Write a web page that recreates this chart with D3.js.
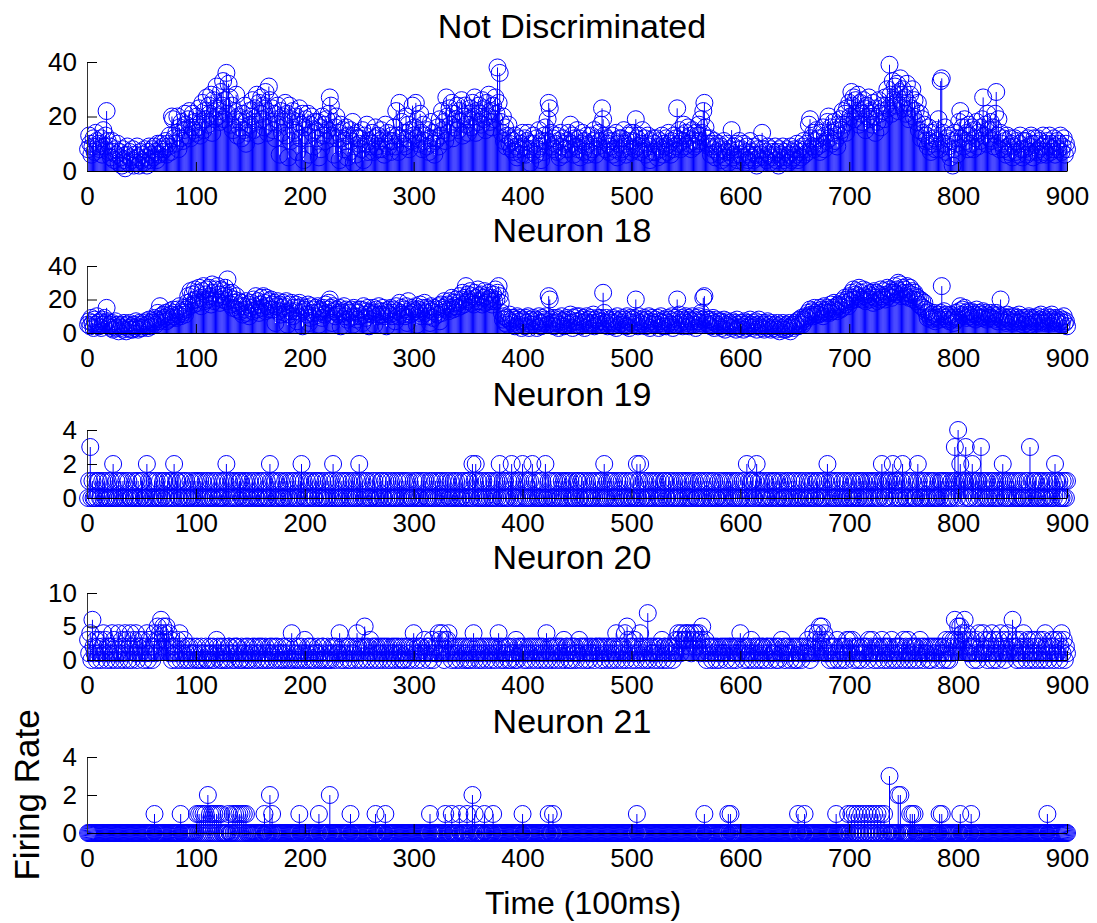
<!DOCTYPE html>
<html>
<head>
<meta charset="utf-8">
<script src="https://cdn.jsdelivr.net/npm/d3@7"></script>
<style>
body { margin: 0; background: #fff; }
svg text { font-family: "Liberation Sans", Arial, sans-serif; fill: #000; }
</style>
</head>
<body>
<script>
// firing rate per 100ms bin, t = 1..900, one row per 10 bins
var notDiscriminated = [
  8,13,10,6,9,12,7,14,11,9, 10,8,12,6,15,9,13,22,11,7, 9,5,11,7,4,8,6,10,3,7, 5,2,8,4,1,6,9,3,7,5,
  4,8,2,6,3,9,5,2,7,4, 6,3,8,5,2,7,9,4,6,8, 5,9,7,4,10,6,8,10,7,9, 8,11,6,10,9,13,7,20,19,12,
  10,14,20,8,16,12,18,11,15,21, 17,13,19,22,12,16,21,15,18,14, 20,16,23,13,18,25,15,22,19,27,
  17,24,21,28,14,26,19,23,31,20, 22,18,29,24,33,19,26,36,21,32, 27,17,24,15,22,19,28,13,20,16,
  18,12,21,15,24,10,19,14,22,17, 20,26,15,23,18,28,13,25,21,27, 19,24,16,29,22,14,31,26,18,23,
  15,21,12,19,24,17,6,22,14,20, 18,25,13,21,5,24,11,19,22,15, 14,20,7,18,23,12,17,21,4,16,
  19,13,21,6,17,20,14,9,18,15, 12,18,5,16,8,20,13,17,11,19, 15,21,27,24,13,18,6,16,20,12,
  14,4,17,12,15,8,11,16,5,13, 7,15,11,18,3,13,6,14,12,10, 12,8,15,4,13,10,17,7,11,9,
  10,14,7,12,16,9,13,8,11,15, 8,12,6,17,10,14,9,11,7,13, 11,16,9,22,13,7,25,12,18,10,
  14,9,20,12,17,8,15,11,24,13, 16,25,12,19,10,21,14,8,17,11, 13,9,15,7,12,18,10,14,6,11,
  12,16,9,19,13,22,15,18,11,27, 20,14,23,17,25,12,21,16,19,24, 15,22,18,26,13,20,24,17,21,14,
  19,23,16,25,20,27,14,22,18,24, 21,17,26,19,23,15,25,20,28,18, 22,16,24,19,27,21,38,25,36,18,
  14,20,11,16,9,13,17,10,12,8, 11,7,13,9,5,12,8,10,6,14, 9,12,6,11,14,8,3,10,7,13,
  10,6,12,8,15,9,4,11,7,13, 16,11,19,25,23,14,9,12,8,10, 13,7,11,5,14,9,12,6,10,8,
  11,14,8,17,10,13,6,12,9,15, 8,12,5,10,14,7,11,9,13,6, 10,7,13,8,11,15,6,12,9,14,
  11,17,23,19,13,8,12,10,7,11, 9,13,6,11,8,14,5,10,12,7, 12,8,15,10,6,11,13,9,14,7,
  11,14,8,19,12,9,13,7,10,15, 8,12,6,10,13,9,4,11,7,12, 10,7,12,5,9,11,8,13,6,10,
  9,12,7,14,10,6,11,8,13,9, 12,23,10,15,8,13,11,17,9,14, 12,16,10,13,8,15,11,9,14,10,
  13,17,11,19,14,22,25,16,12,10, 9,12,6,10,8,11,5,9,7,10, 6,9,4,8,11,5,7,10,3,8,
  7,15,5,9,6,10,4,8,11,6, 8,5,10,3,7,9,4,6,11,5, 7,4,9,6,2,8,5,10,6,14,
  8,5,7,4,9,6,3,8,5,7, 6,9,4,7,2,8,5,6,9,4, 7,5,8,3,6,9,4,7,5,8,
  6,10,4,8,7,5,9,11,6,8, 10,7,17,19,12,9,14,8,11,15, 9,12,7,14,10,16,8,13,11,18,
  20,12,16,10,14,18,11,15,9,17, 13,19,15,22,17,21,14,23,18,25, 20,29,24,27,19,26,22,28,17,25,
  21,18,26,23,15,24,20,27,19,22, 17,25,20,14,23,18,26,21,16,24, 22,19,27,24,30,23,39,28,21,33,
  26,31,24,32,22,29,34,25,30,23, 27,21,32,25,19,28,23,30,20,26, 22,18,25,15,21,12,19,14,17,11,
  13,9,16,11,7,14,10,12,8,15, 11,19,8,33,34,14,10,16,7,12, 9,13,5,11,2,8,14,10,6,12,
  18,22,12,16,9,19,11,14,8,17, 13,10,16,8,15,12,18,9,14,11, 16,19,27,13,17,10,21,15,12,18,
  11,16,9,21,29,13,19,8,14,10, 12,8,11,6,13,9,7,12,10,5, 9,12,7,11,6,10,13,8,5,11,
  8,11,6,12,9,7,13,10,5,12, 10,7,12,8,11,6,9,13,7,10, 6,11,9,13,7,10,8,12,6,9,
  11,8,10,13,7,9,12,6,10,8
];

var neuron18 = [
  5,7,4,9,6,3,8,5,10,6, 4,7,3,8,5,9,6,15,7,4, 5,3,6,2,4,7,3,5,1,4, 3,5,2,6,4,1,5,3,6,2,
  4,2,5,3,7,4,2,6,3,5, 3,6,4,7,5,3,8,6,4,7, 6,9,5,8,12,7,16,10,8,11, 9,12,7,10,8,13,11,9,14,10,
  12,9,14,11,16,10,13,12,15,11, 14,18,22,16,25,19,23,17,26,20, 24,18,27,21,16,25,28,19,23,26,
  20,27,22,17,29,24,19,26,21,28, 23,18,26,20,25,22,27,19,32,24, 21,17,24,15,20,18,22,14,19,16,
  13,18,11,16,14,19,12,17,10,15, 18,13,20,16,22,14,19,12,17,21, 15,22,18,13,21,16,19,14,20,17,
  14,18,6,16,19,13,17,11,15,18, 16,12,19,5,11,17,13,18,10,15, 13,17,7,15,18,12,16,4,14,13,
  15,11,17,6,9,16,12,14,10,15, 12,16,5,14,13,9,15,11,17,12, 14,18,20,15,6,16,13,10,14,12,
  11,15,4,13,12,16,10,14,8,13, 12,9,14,5,15,10,13,8,12,14, 10,14,6,16,11,9,13,15,4,12,
  13,11,15,5,12,14,10,16,11,13, 11,15,10,13,4,12,14,11,15,10, 12,14,7,16,13,10,18,12,15,11,
  14,10,16,6,19,13,11,15,12,14, 13,16,5,14,12,17,10,15,13,18, 12,15,10,14,6,16,13,9,15,12,
  14,11,16,7,17,12,15,19,14,16, 17,13,19,15,21,14,18,16,20,15, 18,22,16,20,24,17,21,28,19,23,
  20,25,18,22,17,24,21,19,26,22, 19,23,17,21,25,18,22,20,24,19, 21,17,23,19,26,20,24,28,22,18,
  12,8,10,6,9,5,8,11,7,9, 6,9,4,8,10,5,7,9,3,8, 7,4,9,6,10,3,8,5,7,9,
  5,8,3,7,10,6,4,9,6,8, 7,10,5,22,20,8,6,9,4,7, 6,9,3,8,5,10,7,4,8,6,
  9,5,8,11,6,3,9,7,10,5, 7,10,4,8,6,9,3,7,10,6, 8,5,9,6,11,4,8,6,9,7,
  5,9,7,24,12,6,9,4,8,6, 7,4,9,6,8,3,10,7,5,8, 6,9,5,8,4,10,7,3,9,6,
  8,5,9,20,7,4,10,6,8,5, 7,9,4,8,6,10,3,7,9,5, 6,8,5,9,3,7,10,6,4,8,
  7,4,9,6,8,5,10,3,7,9, 5,20,8,11,6,9,4,8,7,10, 6,9,4,8,7,10,5,8,3,9,
  7,10,6,12,8,21,22,9,6,8, 5,8,4,7,9,3,6,8,5,7, 4,7,3,6,8,2,5,7,4,6,
  5,3,7,4,6,2,8,5,3,6, 4,6,2,7,5,3,6,4,8,5, 3,6,4,7,2,5,8,4,6,3,
  5,2,6,4,7,3,5,2,6,4, 3,5,2,6,4,1,5,3,6,2, 4,2,5,3,6,1,4,5,3,6,
  5,7,4,8,6,9,5,8,7,10, 9,12,10,14,11,13,10,15,12,11, 13,11,15,12,14,10,16,13,12,15,
  14,12,17,13,15,18,14,16,13,17, 16,14,19,15,18,21,17,20,16,22, 19,24,21,26,20,23,25,22,27,21,
  24,20,26,22,19,25,21,23,20,24, 22,18,25,21,24,19,23,20,26,22, 21,25,20,23,27,22,26,24,21,25,
  24,28,23,26,30,25,29,22,27,24, 26,22,28,24,21,27,23,25,20,24, 22,19,21,17,20,16,19,15,18,14,
  12,9,13,10,8,11,9,12,7,10, 9,11,8,12,28,10,13,9,11,8, 10,7,11,8,9,6,10,12,8,9,
  13,16,11,14,10,15,12,9,13,11, 10,13,9,12,11,8,14,10,12,9, 11,9,13,10,12,8,11,9,10,12,
  9,11,8,10,12,7,11,9,20,8, 10,7,9,6,11,8,9,7,10,6, 8,10,7,9,6,11,8,7,9,5,
  7,9,6,8,10,5,9,7,8,6, 9,7,10,6,8,11,7,9,6,8, 7,10,6,9,7,11,8,6,9,7,
  8,6,9,7,5,8,10,6,7,4
];

// one digit per bin, groups of 10 bins
var neuron19Digits =
  "0130100101 1001010010 0102001010 1010010100 0100101001 1000201010 0101001001 1001010102 0110010010 1000100101 " +
  "0101010010 1001001010 0100101201 0010100101 1001010010 0101001001 0100100210 1010010100 0101001010 1001012010 " +
  "0100101001 1010010010 0101020100 1001010101 0010100102 1010010100 0101001001 1001010010 0100101010 1010010001 " +
  "0101001010 1000101001 0101010010 1001001010 0100101001 1002012010 0101001010 1001010120 0101001012 1001010102 " +
  "0100101020 1010010100 2001010010 1010010101 0101001001 1001010010 0100101010 1010200101 0101001010 1001010010 " +
  "0100201200 1010010101 0101001001 1001010010 0100101010 1010010100 0101001010 1001010001 0100101010 1010010100 " +
  "0101020101 1001201010 0100101001 1010010100 0101001010 1001010010 0100101001 1010010102 0101001010 1001010010 " +
  "0100101001 1010010101 0101010012 1001011012 0110100120 1001010100 0121001010 1001010100 0101101010 1001013104 " +
  "1210113010 0121010110 3101010010 1010010101 2100101010 1010010100 0101030101 1001010010 0101001021 1010010101";

var neuron20Digits =
  "3140621302 1302413021 2041302140 1320413024 0231402312 3021403120 2413534625 4352413021 2031402130 1202101210 " +
  "2010210120 0121020132 1020120102 2101202210 0210120201 1202102120 2012010212 0120210102 1021020410 2102012013 " +
  "0120210201 1201022010 2010212021 1402102120 2012102420 1202520213 0212021021 2021202102 1202120120 0212021024 " +
  "2102122013 1220213021 2143142031 3412021202 1202120210 2021402120 1202120212 0212021420 2102120201 1203021212 " +
  "0210212021 2021202120 1402120212 0212021302 2102021201 1320212021 0212102212 2021202120 1202140212 0214053120 " +
  "2130212402 1202702121 0212021302 2102212021 3243142334 4324134243 2413521302 1220212021 0212120212 2021202124 " +
  "1202120213 0212021202 2102212021 1202021312 0212102120 2021202121 1320214231 4253524131 2021202130 1202120313 " +
  "2130212021 0212120312 3102120213 2021202130 1202120213 0213021202 2102312021 1202021212 0212102130 2031236325 " +
  "3524363412 1320213041 2143120312 4031203142 1302143126 2130213024 1203120313 0213021304 2102132031 1302413021";

// neuron 21 is silent except at these bins
var neuron21SpikeTimes = [62, 86, 101, 103, 105, 107, 109, 111, 113, 115, 117, 119, 121, 123, 130,
  134, 136, 138, 140, 142, 144, 146, 163, 168, 170, 195, 213, 223, 242, 265, 274,
  315, 329, 335, 342, 349, 354, 356, 365, 373, 400, 424, 428, 505, 567, 589, 591,
  653, 659, 688, 699, 702, 705, 708, 711, 714, 717, 720, 723, 726, 729, 732, 737,
  745, 747, 756, 758, 760, 783, 785, 802, 812, 882];
var neuron21SpikeRates = [1, 1, 1, 1, 1, 1, 1, 2, 1, 1, 1, 1, 1, 1, 1,
  1, 1, 1, 1, 1, 1, 1, 1, 2, 1, 1, 1, 2, 1, 1, 1,
  1, 1, 1, 1, 1, 2, 1, 1, 1, 1, 1, 1, 1, 1, 1, 1,
  1, 1, 1, 1, 1, 1, 1, 1, 1, 1, 1, 1, 1, 1, 1, 3,
  2, 2, 1, 1, 1, 1, 1, 1, 1, 1];

var xTicks = [0, 100, 200, 300, 400, 500, 600, 700, 800, 900];

function digits(s) { return s.replace(/\s+/g, "").split("").map(Number); }

var neuron19 = digits(neuron19Digits),
    neuron20 = digits(neuron20Digits),
    neuron21 = notDiscriminated.map(function() { return 0; });
neuron21SpikeTimes.forEach(function(t, i) { neuron21[t - 1] = neuron21SpikeRates[i]; });

var width = 1097, height = 923;

var svg = d3.select("body").append("svg")
            .attr("width", width)
            .attr("height", height);

var x = d3.scaleLinear().domain([0, 900]).range([87, 1067]);

var panels = [
  {title: "Not Discriminated", values: notDiscriminated, yMax: 40, yTicks: [0, 20, 40], bottom: 171, top: 62},
  {title: "Neuron 18", values: neuron18, yMax: 40, yTicks: [0, 20, 40], bottom: 333, top: 266},
  {title: "Neuron 19", values: neuron19, yMax: 4, yTicks: [0, 2, 4], bottom: 498, top: 430},
  {title: "Neuron 20", values: neuron20, yMax: 10, yTicks: [0, 5, 10], bottom: 660, top: 593},
  {title: "Neuron 21", values: neuron21, yMax: 4, yTicks: [0, 2, 4], bottom: 833, top: 757}
];

panels.forEach(function(p) {
  var y = d3.scaleLinear().domain([0, p.yMax]).range([p.bottom, p.top]);
  var pts = p.values.map(function(v, i) { return {t: i + 1, v: v}; });
  var g = svg.append("g");

  // stems
  g.append("g").selectAll("line")
   .data(pts.filter(function(d) { return d.v > 0; }))
   .enter().append("line")
   .attr("x1", function(d) { return x(d.t); })
   .attr("x2", function(d) { return x(d.t); })
   .attr("y1", y(0))
   .attr("y2", function(d) { return y(d.v); })
   .attr("stroke", "#0000ff")
   .attr("stroke-width", 1);

  // markers
  g.append("g").selectAll("circle")
   .data(pts)
   .enter().append("circle")
   .attr("cx", function(d) { return x(d.t); })
   .attr("cy", function(d) { return y(d.v); })
   .attr("r", 8.5)
   .attr("fill", "none")
   .attr("stroke", "#0000ff")
   .attr("stroke-width", 1);

  // x axis doubles as the stem baseline
  var xAxis = g.append("g")
               .attr("transform", "translate(0," + y(0) + ")")
               .call(d3.axisBottom(x).tickValues(xTicks).tickSizeInner(-9).tickSizeOuter(0).tickPadding(16));

  var yAxis = g.append("g")
               .attr("transform", "translate(" + x(0) + ",0)")
               .call(d3.axisLeft(y).tickValues(p.yTicks).tickFormat(d3.format("d"))
                       .tickSizeInner(-10).tickSizeOuter(0).tickPadding(10));

  [xAxis, yAxis].forEach(function(a) {
    a.selectAll("path, line").attr("stroke", "#000").attr("stroke-width", 1);
    a.selectAll("text").attr("font-size", 26).attr("font-family", "Liberation Sans, Arial, sans-serif").attr("fill", "#000");
  });
  yAxis.select(".domain").attr("stroke", "#333");

  svg.append("text")
     .attr("x", 572)
     .attr("y", p.top - 24)
     .attr("text-anchor", "middle")
     .attr("font-size", 34)
     .text(p.title);
});

svg.append("text")
   .attr("x", 583)
   .attr("y", 914)
   .attr("text-anchor", "middle")
   .attr("font-size", 32)
   .text("Time (100ms)");

svg.append("text")
   .attr("transform", "translate(39,795) rotate(-90)")
   .attr("text-anchor", "middle")
   .attr("font-size", 35)
   .text("Firing Rate");
</script>
</body>
</html>
